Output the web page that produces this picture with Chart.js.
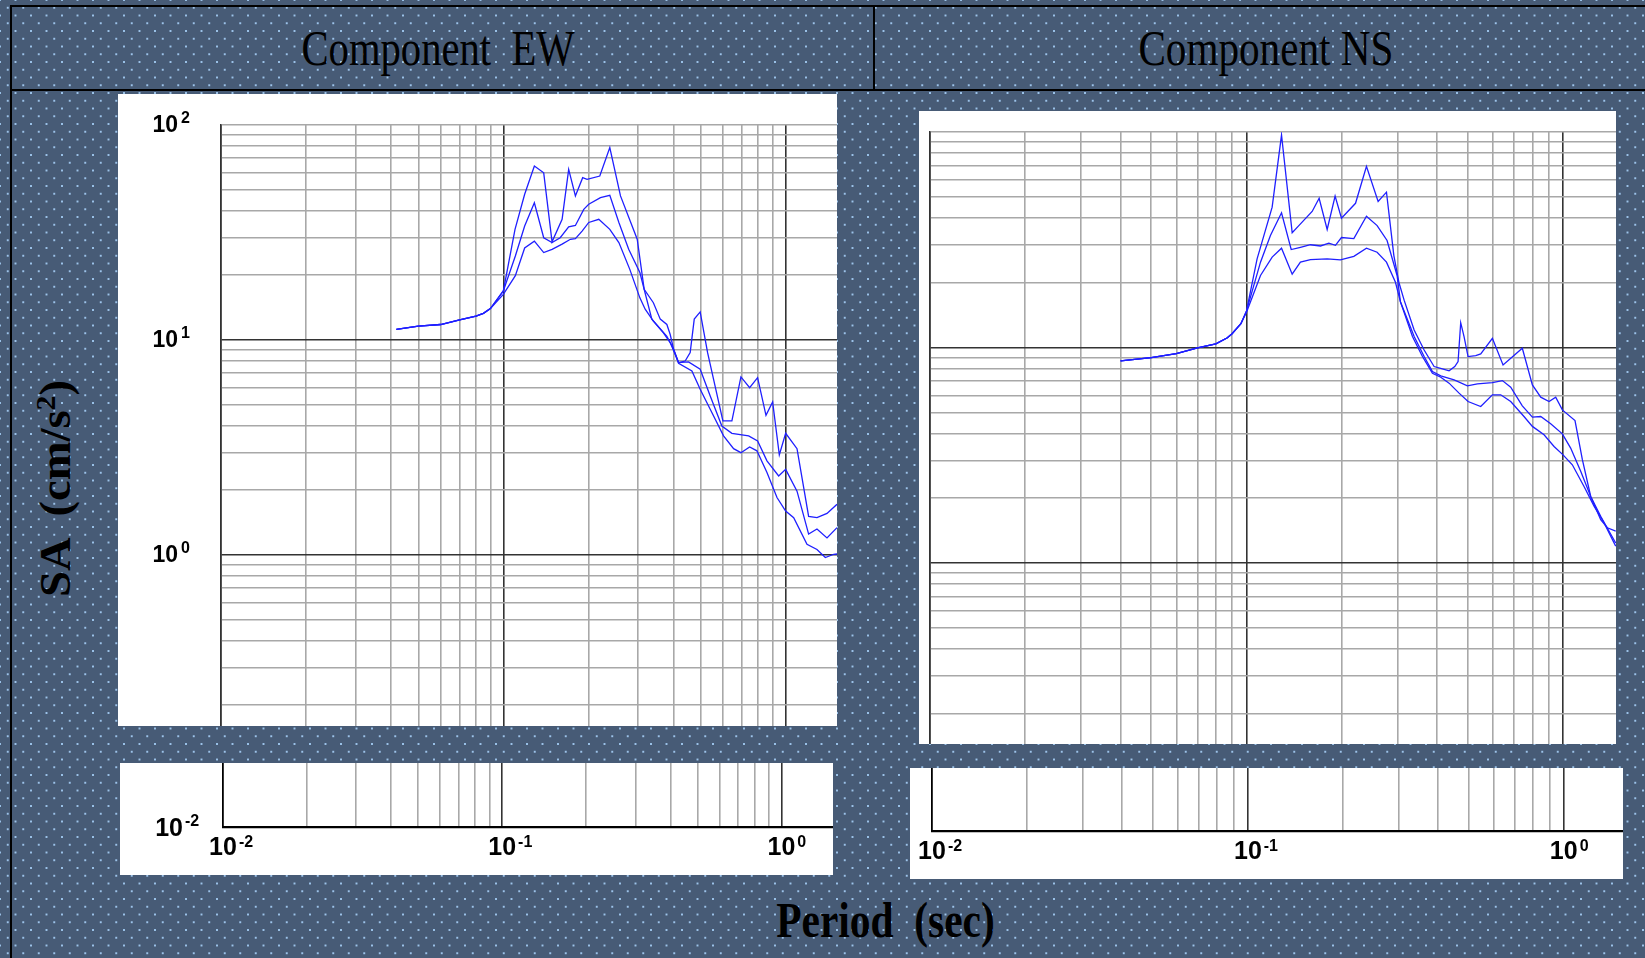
<!DOCTYPE html>
<html><head><meta charset="utf-8">
<script src="https://cdn.jsdelivr.net/npm/chart.js@4.4.1/dist/chart.umd.min.js"></script>
<style>
html,body{margin:0;padding:0;}
body{width:1645px;height:958px;overflow:hidden;position:relative;
 background-color:#475b76;
 background-image:radial-gradient(circle,#9cc3ea 0,#9cc3ea 0.7px,rgba(156,195,234,0) 1.4px),radial-gradient(circle,#9cc3ea 0,#9cc3ea 0.7px,rgba(156,195,234,0) 1.4px);
 background-size:15.5px 15.5px,15.5px 15.5px;
 background-position:0 0,7.75px 7.75px;}
.rule{position:absolute;background:#000;}
.box{position:absolute;background:#fff;}
.box canvas{display:block;}
.title{position:absolute;white-space:pre;font-family:"Liberation Serif","Times New Roman",serif;color:#000;transform-origin:50% 50%;}
</style></head>
<body>
<div class="rule" style="left:10px;top:5px;width:1635px;height:2px"></div>
<div class="rule" style="left:10px;top:5px;width:2px;height:953px"></div>
<div class="rule" style="left:10px;top:89px;width:1635px;height:2px"></div>
<div class="rule" style="left:873px;top:5px;width:2px;height:86px"></div>

<div class="box" style="left:118px;top:94px;width:719px;height:632px"><canvas id="ewMain" width="719" height="632"></canvas></div>
<div class="box" style="left:919px;top:111px;width:697px;height:633px"><canvas id="nsMain" width="697" height="633"></canvas></div>
<div class="box" style="left:120px;top:763px;width:713px;height:112px"><canvas id="ewStrip" width="713" height="112"></canvas></div>
<div class="box" style="left:910px;top:768px;width:713px;height:111px"><canvas id="nsStrip" width="713" height="111"></canvas></div>

<div id="tEW" class="title" style="font-size:50px;line-height:50px;top:23px">Component  EW</div>
<div id="tNS" class="title" style="font-size:50px;line-height:50px;top:23px">Component NS</div>
<div id="tX" class="title" style="font-size:51px;line-height:51px;top:895px;font-weight:bold">Period  (sec)</div>
<div id="tY" class="title" style="font-size:44px;line-height:44px;font-weight:bold">SA  (cm/s<span style="font-size:28px;position:relative;top:-15px">2</span>)</div>

<script>
// ---- data: [period (s), spectral acceleration (cm/s^2)] ----
const ewMax = [[0.0418,11.2],[0.05,11.6],[0.06,11.8],[0.07,12.4],[0.08,12.9],[0.085,13.3],[0.09,14.0],[0.1,16.9],[0.110,32.7],[0.119,47.6],[0.1288,64.4],[0.139,59.9],[0.1488,28.6],[0.1615,36.4],[0.1704,62.2],[0.18,46.8],[0.191,56.9],[0.198,55.9],[0.2196,57.9],[0.2383,78.5],[0.26,46.8],[0.298,29.4],[0.3154,17.2],[0.340,14.9],[0.3596,12.5],[0.3795,11.8],[0.39,10.6],[0.401,9.05],[0.4175,7.85],[0.4406,7.98],[0.459,8.73],[0.4745,12.5],[0.498,13.5],[0.529,8.73],[0.5993,4.20],[0.645,4.20],[0.6943,6.73],[0.7454,6.00],[0.7955,6.68],[0.8517,4.46],[0.8992,5.15],[0.9496,2.92],[1.0,3.68],[1.097,3.12],[1.206,1.51],[1.291,1.49],[1.401,1.56],[1.52,1.72]];
const ewMid = [[0.0418,11.2],[0.05,11.6],[0.06,11.8],[0.07,12.4],[0.08,12.9],[0.085,13.3],[0.09,14.0],[0.1,16.9],[0.1103,24.6],[0.119,33.9],[0.1288,43.5],[0.139,29.9],[0.1488,28.4],[0.159,29.9],[0.1704,33.6],[0.18,34.1],[0.1927,40.5],[0.2007,42.8],[0.2208,45.9],[0.2383,47.1],[0.2566,35.2],[0.278,26.4],[0.3045,20.6],[0.3357,12.5],[0.369,10.8],[0.39,9.72],[0.4175,7.85],[0.4529,7.90],[0.498,7.31],[0.5405,5.49],[0.5943,3.98],[0.645,3.68],[0.7393,3.58],[0.7955,3.39],[0.8586,2.74],[0.9445,2.33],[1.0,2.50],[1.097,1.98],[1.206,1.25],[1.291,1.32],[1.401,1.20],[1.52,1.34]];
const ewMin = [[0.0418,11.2],[0.05,11.6],[0.06,11.8],[0.07,12.4],[0.08,12.9],[0.085,13.3],[0.09,14.0],[0.1,16.3],[0.1103,19.9],[0.119,26.8],[0.1288,28.8],[0.139,25.5],[0.1488,26.4],[0.1615,27.9],[0.1728,29.4],[0.18,29.6],[0.1901,32.1],[0.2007,35.2],[0.2178,36.4],[0.2383,32.7],[0.2566,28.4],[0.2805,21.3],[0.3045,15.7],[0.318,13.9],[0.340,12.25],[0.3795,10.4],[0.401,9.05],[0.4175,7.79],[0.4655,7.18],[0.498,5.90],[0.5405,4.76],[0.6026,3.58],[0.654,3.12],[0.6943,2.99],[0.7454,3.18],[0.791,3.05],[0.8586,2.42],[0.9317,1.85],[1.0,1.60],[1.0676,1.49],[1.19,1.12],[1.291,1.06],[1.382,0.972],[1.48,1.007],[1.52,1.01]];
const nsMax = [[0.04,8.68],[0.05,8.99],[0.06,9.38],[0.07,9.96],[0.08,10.4],[0.087,11.1],[0.09,11.6],[0.096,12.9],[0.1,14.8],[0.108,25.8],[0.1205,44.8],[0.129,96.8],[0.1394,34.1],[0.1463,36.8],[0.1612,42.8],[0.1696,49.3],[0.1798,35.3],[0.1905,50.4],[0.1995,39.8],[0.221,46.7],[0.2393,69.3],[0.2605,47.6],[0.2768,52.6],[0.292,26.8],[0.3029,20.1],[0.3147,16.6],[0.3385,12.07],[0.364,9.75],[0.3914,8.17],[0.4159,7.97],[0.4365,7.80],[0.4549,8.17],[0.466,8.61],[0.475,13.05],[0.4867,11.25],[0.5011,9.09],[0.5299,9.18],[0.5495,9.35],[0.5981,11.05],[0.6464,8.31],[0.7436,9.93],[0.8001,6.71],[0.8503,5.89],[0.9033,5.62],[0.948,5.89],[0.995,5.14],[1.091,4.59],[1.151,3.02],[1.223,2.04],[1.315,1.59],[1.38,1.46],[1.467,1.41]];
const nsMid = [[0.04,8.68],[0.05,8.99],[0.06,9.38],[0.07,9.96],[0.08,10.4],[0.087,11.1],[0.09,11.6],[0.096,12.9],[0.1,14.8],[0.1107,24.9],[0.119,33.1],[0.129,42.2],[0.1384,28.5],[0.148,29.2],[0.1592,30.0],[0.1713,29.6],[0.182,30.5],[0.191,29.8],[0.1995,32.4],[0.2183,32.0],[0.2393,40.7],[0.2586,36.8],[0.278,31.4],[0.299,21.6],[0.3064,16.3],[0.3385,11.25],[0.364,9.09],[0.3867,7.74],[0.4109,7.40],[0.4527,7.08],[0.4986,6.64],[0.5364,6.79],[0.5981,6.88],[0.6433,7.03],[0.6834,6.55],[0.7436,5.37],[0.8001,4.76],[0.8503,4.79],[0.914,4.43],[0.995,3.98],[1.057,3.42],[1.137,2.67],[1.223,2.04],[1.315,1.65],[1.467,1.24]];
const nsMin = [[0.04,8.68],[0.05,8.99],[0.06,9.38],[0.07,9.96],[0.08,10.4],[0.087,11.1],[0.09,11.6],[0.096,12.9],[0.1,14.6],[0.1107,21.6],[0.1205,26.3],[0.129,28.9],[0.1394,21.9],[0.148,24.9],[0.1592,25.6],[0.1798,25.8],[0.198,25.5],[0.2183,26.5],[0.2393,28.9],[0.2586,27.7],[0.2768,24.9],[0.2955,20.1],[0.3064,16.3],[0.3344,11.25],[0.3596,9.09],[0.3867,7.60],[0.4109,7.29],[0.4365,6.84],[0.4694,6.15],[0.5011,5.62],[0.5495,5.33],[0.5981,6.04],[0.6355,6.04],[0.6834,5.62],[0.7527,4.79],[0.8001,4.31],[0.871,3.94],[0.9367,3.48],[1.0,3.18],[1.07,2.86],[1.165,2.27],[1.253,1.84],[1.347,1.54],[1.467,1.20]];

// ---- tick labels: [value, exponent of 10] ----
const yTickLabels = [[100,'2'],[10,'1'],[1,'0']];
const xTickLabels = [[0.01,'-2'],[0.1,'-1'],[1,'0']];
const stripYLabel = [[0,'-2']];

const BLUE = '#1f1fff', DARK = '#333333', LIGHT = '#a8a8a8';
const isPow10 = v => Math.abs(Math.log10(v) - Math.round(Math.log10(v))) < 1e-6;
function logGrid(lo, hi) { const out = []; for (let e = lo; e <= hi; e++) for (let m = 1; m <= 9; m++) out.push(+(m * Math.pow(10, e)).toPrecision(6)); return out; }

function drawPow(ctx, x, y, exp, f, align) {
  ctx.font = 'bold ' + f.base + 'px "Liberation Sans", Arial, sans-serif';
  const w = ctx.measureText('10').width;
  const left = align === 'right' ? x - w : x - w / 2;
  ctx.textAlign = 'left'; ctx.textBaseline = 'alphabetic';
  ctx.fillText('10', left, y + f.baseDy);
  ctx.font = 'bold ' + f.exp + 'px "Liberation Sans", Arial, sans-serif';
  ctx.fillText(exp, left + w + f.gap, y + f.expDy);
}
function powPlugin(id, spec) {
  return { id, afterDraw(chart) {
    const ctx = chart.ctx; ctx.save(); ctx.fillStyle = '#000';
    (spec.y || []).forEach(([v, e]) => drawPow(ctx, spec.yX, chart.scales.y.getPixelForValue(v), e, spec.yFont, 'right'));
    (spec.x || []).forEach(([v, e]) => drawPow(ctx, chart.scales.x.getPixelForValue(v), chart.scales.y.bottom, e, spec.xFont, 'center'));
    ctx.restore();
  }};
}
function xAxis(xMax, height, border) {
  return { type: 'logarithmic', min: 0.01, max: xMax,
    afterBuildTicks: s => { s.ticks = logGrid(-2, 0).filter(v => v >= 0.00999 && v <= xMax * 1.0001).map(v => ({ value: v, major: isPow10(v) })); },
    afterFit: s => { s.height = height; },
    ticks: { display: false },
    grid: { drawTicks: false, lineWidth: 1.6, color: c => (c.tick && isPow10(c.tick.value)) ? DARK : LIGHT },
    border: { display: border, color: '#000', width: 2.2 } };
}
function mainChart(id, series, xMax, yMin, padTop, yWidth, labels) {
  return new Chart(document.getElementById(id), {
    type: 'line',
    data: { datasets: series.map(s => ({ data: s.map(([x, y]) => ({ x, y })), borderColor: BLUE, borderWidth: 1.3, pointRadius: 0, tension: 0, fill: false })) },
    options: {
      responsive: false, animation: false, devicePixelRatio: 1, events: [],
      layout: { padding: { top: padTop, left: 0, right: 0, bottom: 0 } },
      plugins: { legend: { display: false }, tooltip: { enabled: false } },
      scales: {
        x: xAxis(xMax, 0, false),
        y: { type: 'logarithmic', min: yMin, max: 100,
          afterBuildTicks: s => { s.ticks = logGrid(-1, 2).filter(v => v >= yMin && v <= 100.0001).map(v => ({ value: v, major: isPow10(v) })); },
          afterFit: s => { s.width = yWidth; },
          ticks: { display: false },
          grid: { drawTicks: false, lineWidth: 1.6, color: c => (c.tick && isPow10(c.tick.value) && c.tick.value < 99) ? DARK : LIGHT },
          border: { display: true, color: DARK, width: 1.6 } }
      }
    },
    plugins: labels ? [powPlugin(id + 'Pow', { y: yTickLabels, yX: 60, yFont: { base: 23, exp: 16, baseDy: 7, expDy: -2, gap: 3 } })] : []
  });
}
function stripChart(id, xMax, yWidth, withYLabel) {
  return new Chart(document.getElementById(id), {
    type: 'line', data: { datasets: [] },
    options: {
      responsive: false, animation: false, devicePixelRatio: 1, events: [],
      layout: { padding: 0 },
      plugins: { legend: { display: false }, tooltip: { enabled: false } },
      scales: {
        x: xAxis(xMax, 48, true),
        y: { type: 'linear', min: 0, max: 1, afterFit: s => { s.width = yWidth; },
          ticks: { display: false }, grid: { display: false, drawTicks: false },
          border: { display: true, color: '#000', width: 1.6 } }
      }
    },
    plugins: [powPlugin(id + 'Pow', {
      x: xTickLabels, xFont: { base: 25, exp: 16, baseDy: 28, expDy: 20, gap: 2 },
      y: withYLabel ? stripYLabel : [], yX: 63, yFont: { base: 25, exp: 16, baseDy: 9, expDy: -1, gap: 2 } })]
  });
}

mainChart('ewMain', [ewMax, ewMid, ewMin], 1.52, 0.16, 31, 103, true);
mainChart('nsMain', [nsMax, nsMid, nsMin], 1.47, 0.145, 21, 11, false);
stripChart('ewStrip', 1.53, 103, true);
stripChart('nsStrip', 1.54, 22, false);

function place(id, cx, cy, targetW, rotate) {
  const el = document.getElementById(id);
  const r = el.getBoundingClientRect();
  const w = r.width, h = r.height;
  el.style.left = (cx - w / 2) + 'px';
  if (cy !== null) el.style.top = (cy - h / 2) + 'px';
  el.style.transform = (rotate ? 'rotate(-90deg) ' : '') + 'scaleX(' + (targetW / w) + ')';
}
place('tEW', 437.7, null, 273);
place('tNS', 1265.7, null, 255);
place('tX', 885.7, null, 218.5);
place('tY', 58, 488, 217, true);
</script>
</body></html>
